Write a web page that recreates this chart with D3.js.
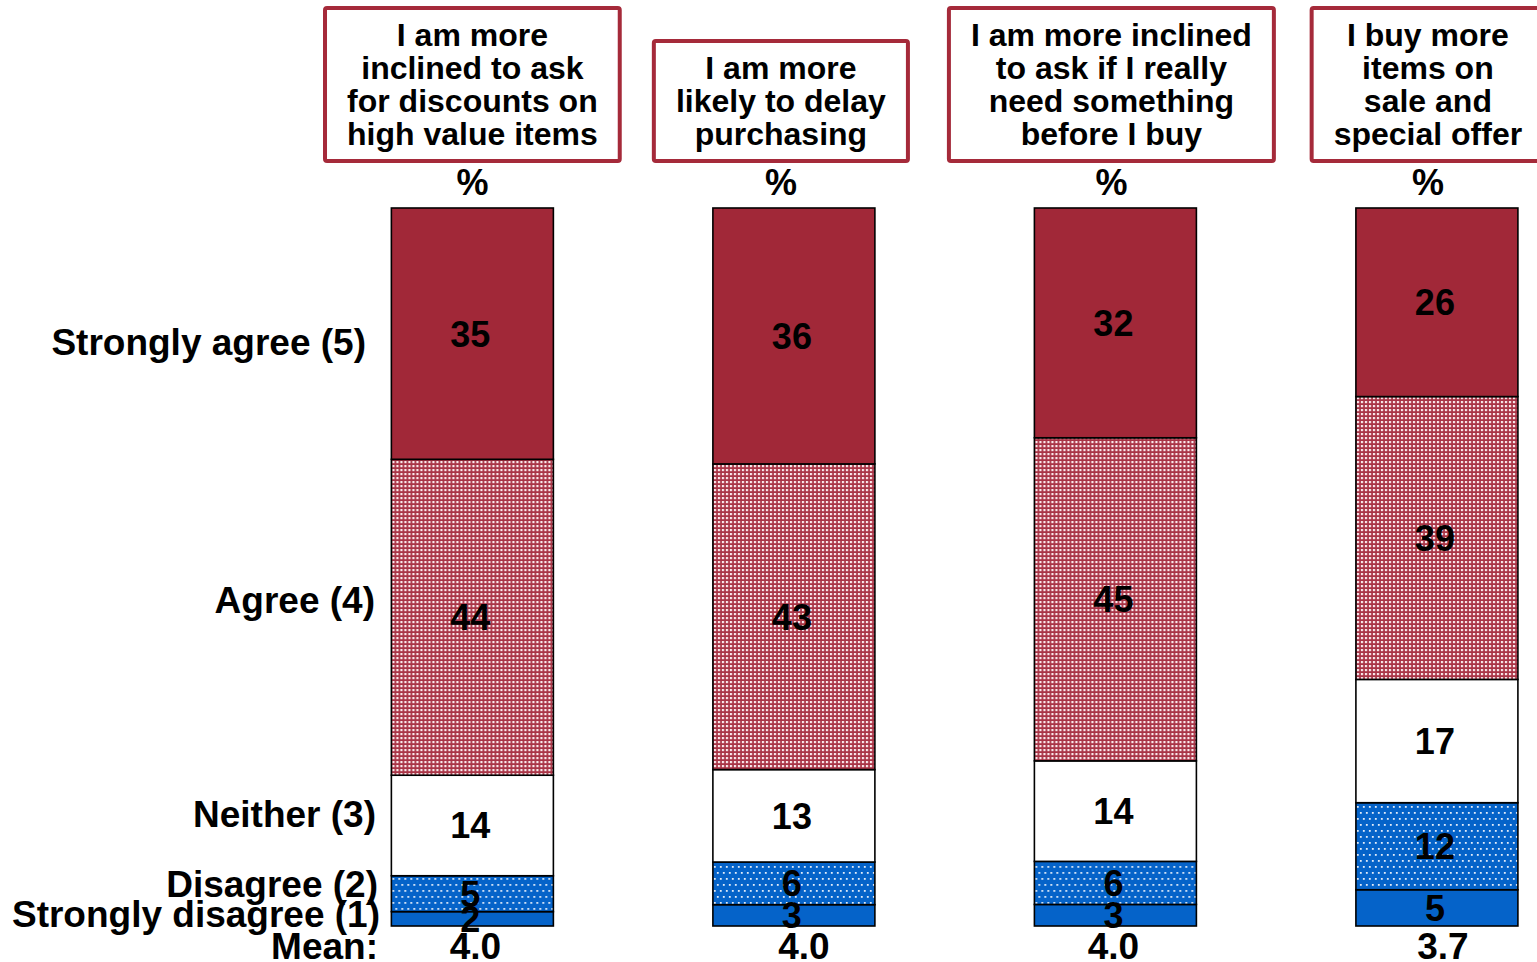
<!DOCTYPE html>
<html>
<head>
<meta charset="utf-8">
<script src="https://cdn.jsdelivr.net/npm/d3@7"></script>
<style>
  html, body { margin: 0; padding: 0; background: #ffffff; }
  svg { display: block; font-family: "Liberation Sans", Arial, sans-serif; font-weight: bold; }
</style>
</head>
<body>
<svg id="chart" width="1537" height="962"></svg>
<script>
// Statements (one stacked column each)
const statements = [
  ["I am more", "inclined to ask", "for discounts on", "high value items"],
  ["I am more", "likely to delay", "purchasing"],
  ["I am more inclined", "to ask if I really", "need something", "before I buy"],
  ["I buy more", "items on", "sale and", "special offer"]
];

// Response scale, bottom of the stack first
const responses = ["Strongly disagree (1)", "Disagree (2)", "Neither (3)", "Agree (4)", "Strongly agree (5)"];

// Percentages per response, one array per response (same order as statements)
const stronglyDisagree = [2, 3, 3, 5];
const disagree         = [5, 6, 6, 12];
const neither          = [14, 13, 14, 17];
const agree            = [44, 43, 45, 39];
const stronglyAgree    = [35, 36, 32, 26];

const means = ["4.0", "4.0", "4.0", "3.7"];

const series = [stronglyDisagree, disagree, neither, agree, stronglyAgree];

// ---- layout ----
const svg = d3.select("#chart");
const barTop = 208, barBottom = 926;
const barWidth = 162;
const red = "#a12838", blue = "#0563c9";

const x = d3.scaleBand()
  .domain(d3.range(statements.length))
  .range([311, 1598])
  .paddingInner(0.497)
  .paddingOuter(0.25);

// patterns
const defs = svg.append("defs");
const pRed = defs.append("pattern").attr("id", "redDots")
  .attr("patternUnits", "userSpaceOnUse").attr("width", 4).attr("height", 4);
pRed.append("rect").attr("width", 4).attr("height", 4).attr("fill", "#a93446");
pRed.append("rect").attr("x", 1).attr("y", 1).attr("width", 2.2).attr("height", 2.2).attr("fill", "#fae9ec");

const pBlue = defs.append("pattern").attr("id", "blueDots")
  .attr("patternUnits", "userSpaceOnUse").attr("width", 6).attr("height", 12);
pBlue.append("rect").attr("width", 6).attr("height", 12).attr("fill", blue);
pBlue.append("rect").attr("x", 1).attr("y", 2).attr("width", 1.8).attr("height", 1.8).attr("fill", "#e6effa");
pBlue.append("rect").attr("x", 4).attr("y", 8).attr("width", 1.8).attr("height", 1.8).attr("fill", "#e6effa");

const fills = [blue, "url(#blueDots)", "#ffffff", "url(#redDots)", red];

// per-statement stacks, each scaled to its own total
const columns = statements.map((s, i) => {
  const vals = series.map(arr => arr[i]);
  const total = d3.sum(vals);
  const y = d3.scaleLinear().domain([0, total]).range([barBottom, barTop]);
  let acc = 0;
  const segs = vals.map((v, k) => {
    const seg = { k, v, y0: acc, y1: acc + v };
    acc += v;
    return seg;
  });
  return { i, y, segs };
});

const colG = svg.selectAll("g.col").data(columns).join("g")
  .attr("class", "col")
  .attr("transform", d => `translate(${x(d.i)},0)`);

colG.selectAll("rect.seg").data(d => d.segs.map(s => ({ ...s, y: d.y }))).join("rect")
  .attr("class", "seg")
  .attr("x", 0)
  .attr("width", barWidth)
  .attr("y", d => d.y(d.y1))
  .attr("height", d => d.y(d.y0) - d.y(d.y1))
  .attr("fill", d => fills[d.k])
  .attr("stroke", "#000")
  .attr("stroke-width", 1.6);

colG.selectAll("text.val").data(d => d.segs.map(s => ({ ...s, y: d.y }))).join("text")
  .attr("class", "val")
  .attr("x", barWidth / 2 - 2)
  .attr("y", d => d.y((d.y0 + d.y1) / 2))
  .attr("dy", "0.36em")
  .attr("text-anchor", "middle")
  .attr("font-size", 36)
  .attr("fill", "#000")
  .text(d => d.v);

// mean row
const meanNudge = [3, 10, -2, 6];
colG.append("text")
  .attr("x", d => barWidth / 2 + meanNudge[d.i])
  .attr("y", 959)
  .attr("text-anchor", "middle")
  .attr("font-size", 37)
  .text(d => means[d.i]);

// header boxes with "%" beneath
const headerNudge = [0, -13, -4, -9];
const lineH = 33, padX = 22, padY = 10.5, boxBottom = 161;
const headG = svg.selectAll("g.head").data(statements).join("g")
  .attr("class", "head")
  .attr("transform", (d, i) => `translate(${x(i) + barWidth / 2 + headerNudge[i]},0)`);

headG.each(function(lines) {
  const g = d3.select(this);
  const h = lines.length * lineH + 2 * padY;
  const top = boxBottom - h;
  const rect = g.append("rect");
  const t = g.append("text")
    .attr("text-anchor", "middle")
    .attr("font-size", 32);
  t.selectAll("tspan").data(lines).join("tspan")
    .attr("x", 0)
    .attr("y", (l, j) => top + padY + lineH * j + lineH / 2 - 1)
    .attr("dy", "0.36em")
    .text(l => l);
  const w = t.node().getBBox().width + 2 * padX;
  rect.attr("x", -w / 2).attr("y", top)
    .attr("width", w).attr("height", h)
    .attr("rx", 2)
    .attr("fill", "#fff")
    .attr("stroke", "#a52a3a")
    .attr("stroke-width", 4);
  g.append("text")
    .attr("x", 0)
    .attr("y", 195)
    .attr("text-anchor", "middle")
    .attr("font-size", 36)
    .text("%");
});

// response labels on the left, placed beside the first column's segments
const labelNudge = [-5, -10.5, -12, -17.5, 8];
const labelRight = [380, 378, 376, 375, 366];
const first = columns[0];
svg.append("g").selectAll("text").data(first.segs).join("text")
  .attr("x", d => labelRight[d.k])
  .attr("y", d => first.y((d.y0 + d.y1) / 2) + labelNudge[d.k])
  .attr("dy", "0.36em")
  .attr("text-anchor", "end")
  .attr("font-size", 37)
  .text(d => responses[d.k]);

svg.append("text")
  .attr("x", 378)
  .attr("y", 959)
  .attr("text-anchor", "end")
  .attr("font-size", 37)
  .text("Mean:");
</script>
</body>
</html>
